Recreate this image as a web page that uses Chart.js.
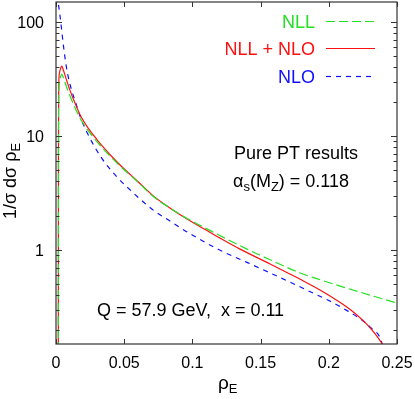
<!DOCTYPE html>
<html>
<head>
<meta charset="utf-8">
<script src="https://cdn.jsdelivr.net/npm/chart.js@4.4.1/dist/chart.umd.min.js"></script>
<style>
  html, body { margin: 0; padding: 0; background: #fff; }
  #wrap { width: 415px; height: 399px; }
</style>
</head>
<body>
<div id="wrap"><canvas id="rhoChart"></canvas></div>
<script>
// values
var rhoNLL = [0.0017, 0.0018, 0.0020, 0.0028, 0.0042, 0.0055, 0.0075, 0.010, 0.0139, 0.018, 0.0237, 0.030, 0.035, 0.040, 0.0481, 0.060, 0.0713, 0.0835, 0.0958, 0.11, 0.124, 0.14, 0.157, 0.179, 0.1911, 0.21, 0.23, 0.25];
var valNLL = [0.1, 6, 22, 31, 35, 32.4, 27.5, 22.9, 17.8, 14.1, 11.1, 8.95, 7.64, 6.6, 5.3, 3.96, 2.95, 2.34, 1.9, 1.55, 1.27, 1.02, 0.822, 0.63, 0.562, 0.476, 0.403, 0.343];

var rhoNLLNLO = [0.0017, 0.0018, 0.0020, 0.0028, 0.0042, 0.0055, 0.0075, 0.010, 0.0139, 0.018, 0.0237, 0.030, 0.035, 0.040, 0.0481, 0.060, 0.0713, 0.0835, 0.0958, 0.11, 0.12, 0.135, 0.157, 0.17, 0.179, 0.1935, 0.2106, 0.22, 0.2278, 0.234, 0.24, 0.2415];
var valNLLNLO = [0.1, 8, 28, 37, 41, 37.6, 31.6, 25.7, 19.5, 15.1, 11.7, 9.33, 7.91, 6.79, 5.41, 4.0, 2.99, 2.34, 1.88, 1.5, 1.28, 1.02, 0.755, 0.63, 0.555, 0.447, 0.333, 0.274, 0.224, 0.184, 0.145, 0.135];

var rhoNLO = [0.0008, 0.0017, 0.0025, 0.0035, 0.0045, 0.0056, 0.0075, 0.0095, 0.012, 0.0139, 0.018, 0.0237, 0.0335, 0.0445, 0.0518, 0.0713, 0.0835, 0.0958, 0.12, 0.14, 0.157, 0.1838, 0.2106, 0.2314, 0.2388, 0.2395];
var valNLO = [260, 150, 125, 100, 78, 60, 41, 31, 24, 20.5, 14.5, 10.2, 6.4, 4.4, 3.6, 2.24, 1.8, 1.45, 1.0, 0.78, 0.63, 0.446, 0.308, 0.205, 0.155, 0.14];

var seriesNames = ["NLL", "NLL + NLO", "NLO"];
var xTicks = [0, 0.05, 0.1, 0.15, 0.2, 0.25];
var xTickLabels = ["0", "0.05", "0.1", "0.15", "0.2", "0.25"];
var yTicks = [1, 10, 100];
var yTickLabels = ["1", "10", "100"];

var GREEN = "#22e022";
var RED = "#ff1010";
var BLUE = "#1010ff";
var FONT = "'Liberation Sans', Arial, sans-serif";

function toPoints(xs, ys) {
  var pts = [];
  for (var i = 0; i < xs.length; i++) pts.push({ x: xs[i], y: ys[i] });
  return pts;
}

// draw text pieces in a row, some of them as subscripts
function drawParts(c, parts, x, y) {
  var cx = x;
  for (var i = 0; i < parts.length; i++) {
    var p = parts[i];
    c.font = p.size + "px " + FONT;
    c.fillText(p.t, cx, y + (p.dy || 0));
    cx += c.measureText(p.t).width;
  }
}
function partsWidth(c, parts) {
  var w = 0;
  for (var i = 0; i < parts.length; i++) {
    c.font = parts[i].size + "px " + FONT;
    w += c.measureText(parts[i].t).width;
  }
  return w;
}

var decorPlugin = {
  id: "decor",
  afterDraw: function (chart) {
    var c = chart.ctx;
    var a = chart.chartArea;
    var xs = chart.scales.x, ys = chart.scales.y;
    c.save();

    // frame
    c.strokeStyle = "#333";
    c.lineWidth = 1.2;
    c.strokeRect(a.left, a.top, a.right - a.left, a.bottom - a.top);

    // x ticks, inward on bottom and top
    c.lineWidth = 1;
    c.beginPath();
    for (var i = 0; i < xTicks.length; i++) {
      var px = Math.round(xs.getPixelForValue(xTicks[i])) + 0.5;
      c.moveTo(px, a.bottom); c.lineTo(px, a.bottom - 5);
      c.moveTo(px, a.top); c.lineTo(px, a.top + 5);
    }
    // y ticks, log major and minor
    for (var d = 0.1; d < 1000; d *= 10) {
      for (var m = 1; m <= 9; m++) {
        var v = d * m;
        if (v < ys.min || v > ys.max) continue;
        var py = Math.round(ys.getPixelForValue(v)) + 0.5;
        var len = m === 1 ? 6 : 3.5;
        c.moveTo(a.left, py); c.lineTo(a.left + len, py);
        c.moveTo(a.right, py); c.lineTo(a.right - len, py);
      }
    }
    c.stroke();

    // tick labels
    c.fillStyle = "#000";
    c.font = "16px " + FONT;
    c.textAlign = "center";
    c.textBaseline = "alphabetic";
    for (i = 0; i < xTicks.length; i++) {
      c.fillText(xTickLabels[i], xs.getPixelForValue(xTicks[i]), a.bottom + 24);
    }
    c.textAlign = "right";
    for (i = 0; i < yTicks.length; i++) {
      c.fillText(yTickLabels[i], a.left - 12, ys.getPixelForValue(yTicks[i]) + 6);
    }

    // axis titles
    c.textAlign = "left";
    drawParts(c, [{ t: "ρ", size: 19 }, { t: "E", size: 13, dy: 4 }], 218, 389);
    var yTitle = [{ t: "1/σ dσ ρ", size: 18 }, { t: "E", size: 13, dy: 4 }];
    c.save();
    c.translate(16, 181);
    c.rotate(-Math.PI / 2);
    drawParts(c, yTitle, -partsWidth(c, yTitle) / 2, 0);
    c.restore();

    // legend
    var rows = [
      { name: seriesNames[0], color: GREEN, dash: [9, 4], y: 21 },
      { name: seriesNames[1], color: RED, dash: [], y: 48 },
      { name: seriesNames[2], color: BLUE, dash: [5, 5], y: 76 }
    ];
    c.font = "18px " + FONT;
    c.textAlign = "right";
    for (i = 0; i < rows.length; i++) {
      var r = rows[i];
      c.fillStyle = r.color;
      c.fillText(r.name, 315, r.y + 6.5);
      c.strokeStyle = r.color;
      c.lineWidth = 1.2;
      c.setLineDash(r.dash);
      c.beginPath();
      c.moveTo(326, r.y + 0.5);
      c.lineTo(375, r.y + 0.5);
      c.stroke();
    }
    c.setLineDash([]);

    // annotations
    c.fillStyle = "#000";
    c.textAlign = "left";
    c.font = "18px " + FONT;
    c.fillText("Pure PT results", 234, 159);
    drawParts(c, [
      { t: "α", size: 18 }, { t: "s", size: 13, dy: 4 },
      { t: "(M", size: 18 }, { t: "Z", size: 13, dy: 4 },
      { t: ") = 0.118", size: 18 }
    ], 233, 187);
    c.font = "18px " + FONT;
    c.fillText("Q = 57.9 GeV,  x = 0.11", 97, 316);

    c.restore();
  }
};

function lineSet(i, xs, ys, color, dash) {
  return {
    label: seriesNames[i],
    data: toPoints(xs, ys),
    borderColor: color,
    borderDash: dash,
    borderWidth: 1.2,
    pointRadius: 0,
    cubicInterpolationMode: "monotone",
    fill: false
  };
}

var chart = new Chart(document.getElementById("rhoChart"), {
  type: "line",
  data: {
    datasets: [
      lineSet(0, rhoNLL, valNLL, GREEN, [9, 4]),
      lineSet(1, rhoNLLNLO, valNLLNLO, RED, []),
      lineSet(2, rhoNLO, valNLO, BLUE, [5, 5])
    ]
  },
  options: {
    responsive: true,
    maintainAspectRatio: false,
    animation: false,
    layout: { padding: { top: 2, right: 18, left: 0, bottom: 0 } },
    plugins: {
      legend: { display: false },
      tooltip: { enabled: false }
    },
    scales: {
      x: {
        type: "linear",
        min: 0,
        max: 0.25,
        grid: { display: false },
        border: { display: false },
        ticks: { display: false },
        afterFit: function (s) { s.height = 55; }
      },
      y: {
        type: "logarithmic",
        min: 0.15,
        max: 150,
        grid: { display: false },
        border: { display: false },
        ticks: { display: false },
        afterFit: function (s) { s.width = 56; }
      }
    }
  },
  plugins: [decorPlugin]
});
</script>
</body>
</html>
